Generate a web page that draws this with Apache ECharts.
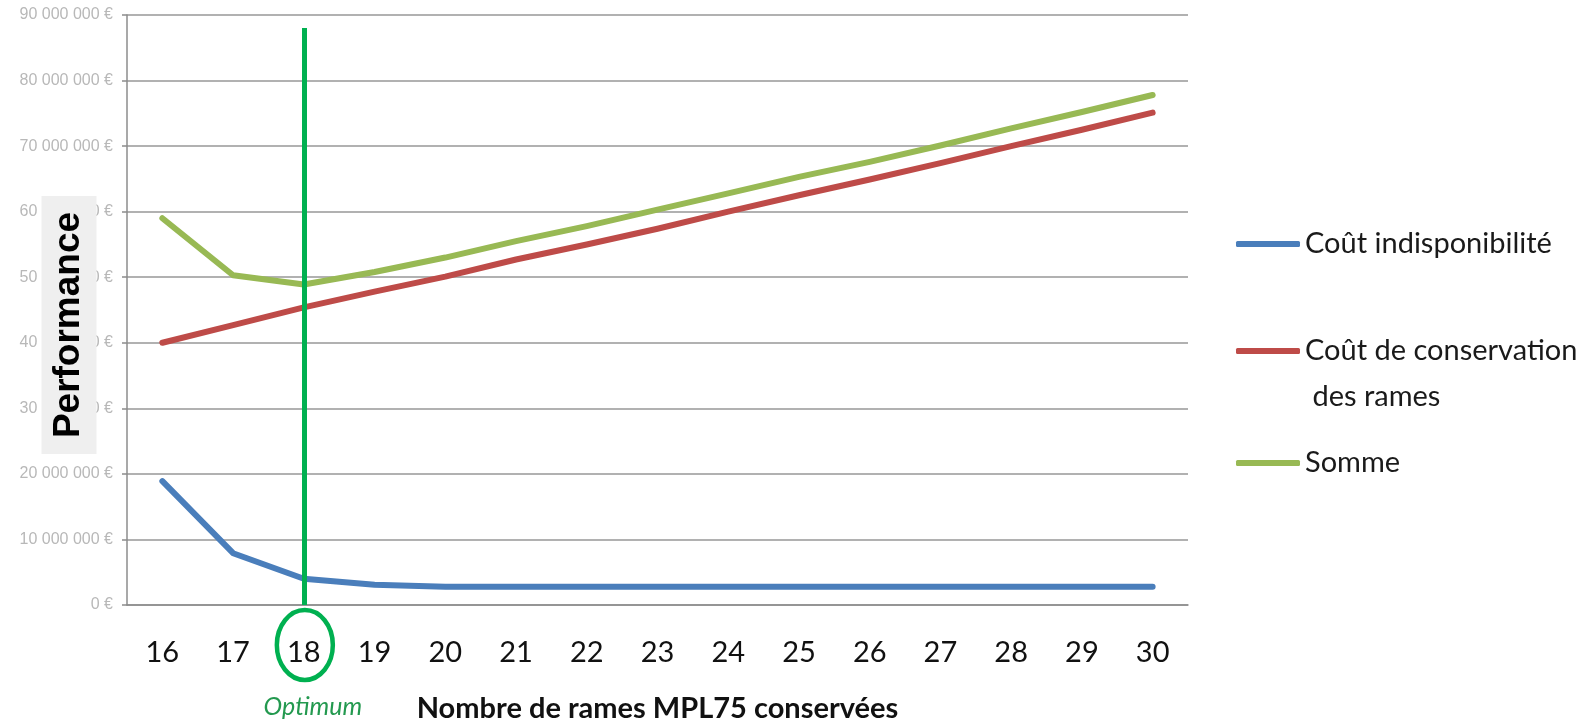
<!DOCTYPE html>
<html>
<head>
<meta charset="utf-8">
<script src="https://cdn.jsdelivr.net/npm/echarts@6/dist/echarts.min.js"></script>
<style>
  html, body { margin: 0; padding: 0; background: #fff; }
  #chart { width: 1596px; height: 723px; }
</style>
</head>
<body>
<div id="chart"></div>
<script>
// nombre de rames conservées
const categories = ['16','17','18','19','20','21','22','23','24','25','26','27','28','29','30'];
const coutIndispo = [18.9, 7.9, 4.0, 3.1, 2.8, 2.8, 2.8, 2.8, 2.8, 2.8, 2.8, 2.8, 2.8, 2.8, 2.8];
const coutConservation = [40.0, 42.7, 45.4, 47.8, 50.1, 52.7, 55.0, 57.4, 60.0, 62.5, 64.9, 67.4, 70.0, 72.5, 75.1];
const somme = [59.0, 50.3, 48.9, 50.8, 53.0, 55.5, 57.8, 60.3, 62.8, 65.3, 67.6, 70.1, 72.7, 75.2, 77.8];
const yTicks = ['0 €','10 000 000 €','20 000 000 €','30 000 000 €','40 000 000 €','50 000 000 €','60 000 000 €','70 000 000 €','80 000 000 €','90 000 000 €'];
const optimum = '18';
const seriesNames = ['Coût indisponibilité', 'Coût de conservation\n des rames', 'Somme'];

const chart = echarts.init(document.getElementById('chart'));

chart.setOption({
  animation: false,
  backgroundColor: '#fff',
  grid: { left: 127, right: 408, top: 15, bottom: 118, outerBoundsMode: 'none', containLabel: false },
  legend: {
    orient: 'vertical',
    left: 1236,
    top: 221,
    padding: 0,
    itemGap: 15,
    itemWidth: 64,
    itemHeight: 6,
    icon: 'roundRect',
    textStyle: { fontFamily: 'Lato', fontSize: 29, color: '#1a1a1a', lineHeight: 46 },
    // la 2e entrée est sur deux lignes, la première alignée sur le trait
    formatter: function (name) {
      return name === seriesNames[1] ? '\n' + name : name;
    },
    data: [
      { name: seriesNames[0] },
      { name: seriesNames[1] },
      { name: seriesNames[2], textStyle: { padding: [5, 0, 5, 0] } }
    ]
  },
  xAxis: {
    type: 'category',
    data: categories,
    name: 'Nombre de rames MPL75 conservées',
    nameLocation: 'middle',
    nameGap: 89,
    nameTextStyle: { fontFamily: 'Lato', fontWeight: 'bold', fontSize: 29, color: '#111' },
    axisLine: { lineStyle: { color: '#8c8c8c', width: 1.5 } },
    axisTick: { interval: 0, length: 12, lineStyle: { color: '#8c8c8c', width: 1.5 } },
    axisLabel: {
      interval: 0,
      margin: 33,
      fontFamily: 'Lato',
      fontSize: 29,
      color: '#111'
    }
  },
  yAxis: {
    type: 'value',
    min: 0,
    max: 90,
    interval: 10,
    axisLine: { show: true, lineStyle: { color: '#8c8c8c', width: 1.5 } },
    axisTick: { show: true, length: 5, lineStyle: { color: '#8c8c8c', width: 1.5 } },
    axisLabel: {
      margin: 14,
      fontFamily: 'Liberation Sans',
      fontSize: 16,
      color: '#b8b8b8',
      formatter: function (v) { return yTicks[Math.round(v / 10)]; }
    },
    splitLine: { lineStyle: { color: '#979797', width: 1.5 } }
  },
  series: [
    {
      name: seriesNames[0],
      type: 'line',
      data: coutIndispo,
      symbol: 'none',
      color: '#4a7ebb',
      lineStyle: { width: 6, cap: 'round', join: 'round' }
    },
    {
      name: seriesNames[1],
      type: 'line',
      data: coutConservation,
      symbol: 'none',
      color: '#be4b48',
      lineStyle: { width: 6, cap: 'round', join: 'round' }
    },
    {
      name: seriesNames[2],
      type: 'line',
      data: somme,
      symbol: 'none',
      color: '#98b954',
      lineStyle: { width: 6, cap: 'round', join: 'round' },
      markLine: {
        silent: true,
        symbol: 'none',
        label: { show: false },
        lineStyle: { color: '#00b050', width: 5, type: 'solid' },
        data: [[{ coord: [optimum, 88] }, { coord: [optimum, 0] }]]
      }
    }
  ]
});

// annotations : titre vertical, cercle autour de l'optimum
const base = chart.convertToPixel({ xAxisIndex: 0, yAxisIndex: 0 }, [optimum, 0]);
chart.setOption({
  graphic: [
    {
      type: 'text',
      x: 69,
      y: 325,
      rotation: Math.PI / 2,
      z: 100,
      style: {
        text: 'Performance',
        fontFamily: 'Liberation Sans',
        fontWeight: 'bold',
        fontSize: 37,
        fill: '#000',
        align: 'center',
        verticalAlign: 'middle',
        backgroundColor: '#efefef',
        padding: [9, 16, 9, 16]
      }
    },
    {
      type: 'ellipse',
      z: 100,
      shape: { cx: base[0] + 1, cy: base[1] + 40, rx: 28, ry: 35 },
      style: { fill: 'none', stroke: '#00b050', lineWidth: 4.5 }
    },
    {
      type: 'text',
      x: base[0] + 9,
      y: base[1] + 102,
      z: 100,
      style: {
        text: 'Optimum',
        fontFamily: 'Lato',
        fontStyle: 'italic',
        fontSize: 25,
        fill: '#23994f',
        align: 'center',
        verticalAlign: 'middle'
      }
    }
  ]
});
</script>
</body>
</html>
